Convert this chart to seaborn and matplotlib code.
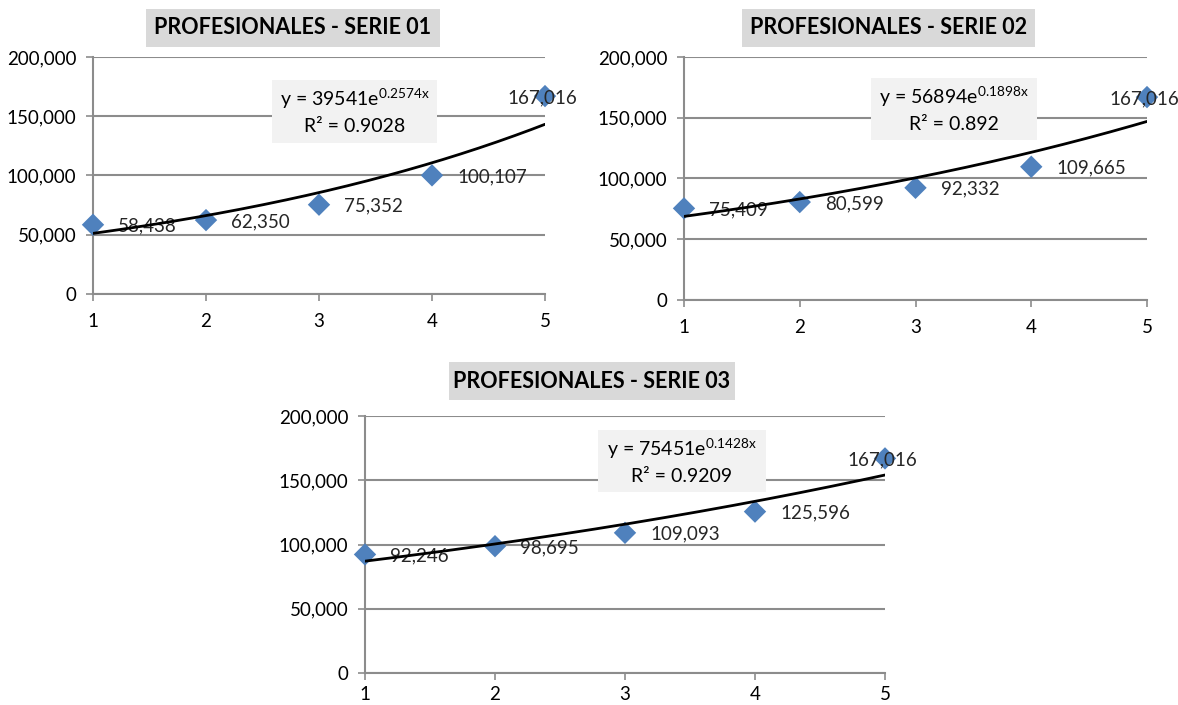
import numpy as np
import matplotlib
matplotlib.use("Agg")
import matplotlib.pyplot as plt
from matplotlib.patches import Rectangle
from matplotlib.ticker import FuncFormatter
import seaborn as sns
import pandas as pd

# Data
periods = [1, 2, 3, 4, 5]
serie_01 = [58438, 62350, 75352, 100107, 167016]
serie_02 = [75409, 80599, 92332, 109665, 167016]
serie_03 = [92246, 98695, 109093, 125596, 167016]
titles = ["PROFESIONALES - SERIE 01", "PROFESIONALES - SERIE 02", "PROFESIONALES - SERIE 03"]
# Exponential trend lines y = a * e^(b x)
trend_a = [39541, 56894, 75451]
trend_b = [0.2574, 0.1898, 0.1428]
trend_r2 = ["0.9028", "0.892", "0.9209"]
y_ticks = [0, 50000, 100000, 150000, 200000]

sns.set_theme(style="white")
plt.rcParams["font.family"] = ["Lato", "DejaVu Sans"]
plt.rcParams["mathtext.fontset"] = "custom"
plt.rcParams["mathtext.rm"] = "Lato"
plt.rcParams["mathtext.it"] = "Lato:italic"
plt.rcParams["mathtext.bf"] = "Lato:bold"

W, H = 1178, 705
fig = plt.figure(figsize=(W / 100, H / 100), dpi=100)
fig.patch.set_facecolor("white")


def frac_rect(x0, y0, x1, y1):
    """Pixel box (top-left origin) -> figure-fraction rect."""
    return [x0 / W, 1 - y1 / H, (x1 - x0) / W, (y1 - y0) / H]


def fx(x):
    return x / W


def fy(y):
    return 1 - y / H


axes_px = [(93, 57, 545, 294), (684, 57, 1147, 300), (365, 416, 885, 673)]
title_px = [(146, 9, 440, 47), (742, 9, 1035, 47), (449, 362, 735, 400)]
eq_px = [(272, 80, 437, 143), (871, 78, 1037, 140), (598, 430, 766, 492)]
xlabel_pad = [9, 9, 4]

series = [serie_01, serie_02, serie_03]
grid_col = "#8c8c8c"
marker_col = "#4F81BD"

for i in range(3):
    ax = fig.add_axes(frac_rect(*axes_px[i]))
    df = pd.DataFrame({"x": periods, "y": series[i]})
    xs = np.linspace(periods[0], periods[-1], 200)
    trend = pd.DataFrame({"x": xs, "y": trend_a[i] * np.exp(trend_b[i] * xs)})

    sns.scatterplot(data=df, x="x", y="y", marker="D", s=130, color=marker_col,
                    edgecolor="none", ax=ax, zorder=3, legend=False)
    ax.collections[-1].set_clip_on(False)

    for k, (xv, yv) in enumerate(zip(periods, series[i])):
        if k == len(periods) - 1:
            ax.annotate(f"{yv:,}", (xv, yv), xytext=(-2, -1), textcoords="offset points",
                        ha="center", va="center", fontsize=13.5, zorder=4,
                        annotation_clip=False)
        else:
            ax.annotate(f"{yv:,}", (xv, yv), xytext=(18, -1), textcoords="offset points",
                        ha="left", va="center", fontsize=13.5, zorder=4,
                        annotation_clip=False)

    sns.lineplot(data=trend, x="x", y="y", color="black", lw=2, ax=ax, zorder=5)

    ax.set_xlim(1, 5)
    ax.set_ylim(0, 200000)
    ax.set_xticks(periods)
    ax.set_yticks(y_ticks)
    ax.yaxis.set_major_formatter(FuncFormatter(lambda v, p: f"{int(v):,}"))
    ax.set_xlabel("")
    ax.set_ylabel("")
    ax.grid(axis="y", color=grid_col, lw=1.5)
    ax.grid(axis="x", visible=False)
    ax.set_axisbelow(True)
    for s in ["top", "right"]:
        ax.spines[s].set_visible(False)
    for s in ["left", "bottom"]:
        ax.spines[s].set_color(grid_col)
        ax.spines[s].set_linewidth(1.5)
    ax.tick_params(axis="both", length=5, width=1.2, color=grid_col,
                   labelsize=13.5, labelcolor="black", direction="out")
    ax.tick_params(axis="y", pad=7, left=True)
    ax.tick_params(axis="x", pad=xlabel_pad[i], bottom=True)
    ax.set_facecolor("none")

    # Title box
    tx0, ty0, tx1, ty1 = title_px[i]
    fig.patches.append(Rectangle((fx(tx0), fy(ty1)), (tx1 - tx0) / W, (ty1 - ty0) / H,
                                 transform=fig.transFigure, facecolor="#D9D9D9",
                                 edgecolor="none", zorder=0))
    fig.text(fx((tx0 + tx1) / 2), fy((ty0 + ty1) / 2), titles[i], ha="center", va="center",
             fontsize=15.5, fontweight="bold", color="black")

    # Trend equation box
    ex0, ey0, ex1, ey1 = eq_px[i]
    fig.patches.append(Rectangle((fx(ex0), fy(ey1)), (ex1 - ex0) / W, (ey1 - ey0) / H,
                                 transform=fig.transFigure, facecolor="#F2F2F2",
                                 edgecolor="none", zorder=2))
    cx = fx((ex0 + ex1) / 2)
    fig.text(cx, fy(ey0 + 19), f"y = {trend_a[i]}e$^{{\\mathrm{{{trend_b[i]:.4f}x}}}}$",
             ha="center", va="center", fontsize=14, color="black", zorder=6)
    fig.text(cx, fy(ey0 + 47), f"R² = {trend_r2[i]}", ha="center", va="center",
             fontsize=14, color="black", zorder=6)

fig.savefig("out.png", dpi=100)
